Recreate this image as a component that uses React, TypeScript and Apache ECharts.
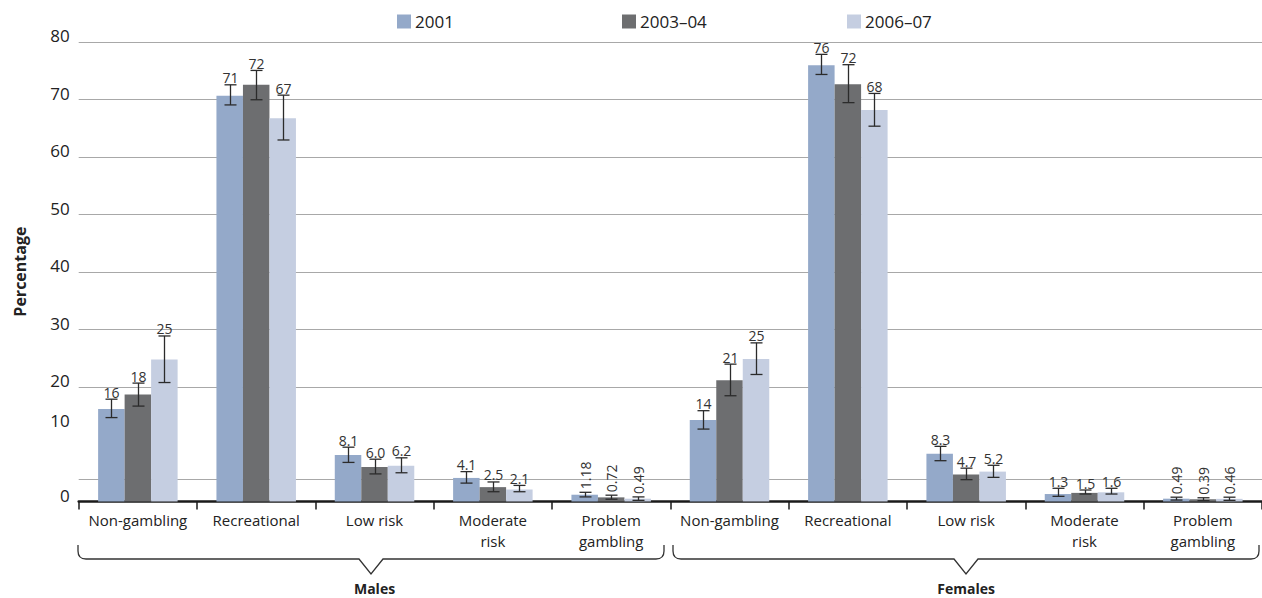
import React, { useEffect, useRef } from 'react';
import * as echarts from 'echarts';

const FONT = '"Open Sans", "Noto Sans", sans-serif';

const categories = [
  'Non-gambling', 'Recreational', 'Low risk', 'Moderate\nrisk', 'Problem\ngambling',
  'Non-gambling', 'Recreational', 'Low risk', 'Moderate\nrisk', 'Problem\ngambling',
];
const groups = ['Males', 'Females'];
const years = ['2001', '2003–04', '2006–07'];
const colors = ['#94a9c9', '#6d6e70', '#c5cee1'];

const values2001 = [16.1, 70.6, 8.1, 4.1, 1.18, 14.2, 75.9, 8.3, 1.3, 0.49];
const values2003 = [18.6, 72.5, 6.0, 2.5, 0.72, 21.1, 72.6, 4.7, 1.5, 0.39];
const values2006 = [24.7, 66.7, 6.2, 2.1, 0.49, 24.8, 68.1, 5.2, 1.6, 0.46];

const labels2001 = ['16', '71', '8.1', '4.1', '1.18', '14', '76', '8.3', '1.3', '0.49'];
const labels2003 = ['18', '72', '6.0', '2.5', '0.72', '21', '72', '4.7', '1.5', '0.39'];
const labels2006 = ['25', '67', '6.2', '2.1', '0.49', '25', '68', '5.2', '1.6', '0.46'];

const low2001 = [14.6, 69.0, 6.8, 3.2, 0.8, 12.6, 74.3, 7.1, 0.9, 0.25];
const high2001 = [17.8, 72.5, 9.45, 5.2, 1.6, 15.8, 77.8, 9.6, 2.3, 0.75];
const low2003 = [16.6, 69.9, 4.8, 1.7, 0.4, 18.4, 69.4, 3.8, 1.3, 0.15];
const high2003 = [20.6, 75.0, 7.36, 3.4, 1.1, 23.9, 76.0, 5.8, 2.0, 0.65];
const low2006 = [20.7, 62.9, 5.0, 1.7, 0.2, 22.1, 65.3, 4.2, 1.3, 0.2];
const high2006 = [28.8, 70.7, 7.6, 2.8, 0.8, 27.6, 71.0, 6.3, 2.3, 0.75];

const gridValues = [4, 20, 30, 40, 50, 60, 70, 80];

const BAR_W = 26.5;
const CAP = 12;

const GRID_LEFT = 78.7;
const GRID_TOP = 41.7;
const GRID_W = 1186;
const GRID_H = 459.8;

const LEGEND_LEFT = 392;
const LEGEND_STEP = 225;

const BRACE_W = 586;
const braceD = `M0,0 L0,6 Q0,14 8,14 L${BRACE_W / 2 - 12},14 L${BRACE_W / 2},29 L${BRACE_W / 2 + 12},14 L${BRACE_W - 8},14 Q${BRACE_W},14 ${BRACE_W},6 L${BRACE_W},0`;

let braceRegistered = false;
function registerBrace() {
  if (braceRegistered) return;
  echarts.graphic.registerShape('brace', echarts.graphic.extendPath(braceD, {}) as any);
  braceRegistered = true;
}

function makeErr(k: number, low: number[], high: number[], labels: string[]) {
  return {
    type: 'custom',
    name: 'err' + k,
    z: 5,
    silent: true,
    data: low.map((l, i) => [i, l, high[i]]),
    encode: { x: 0, y: [1, 2] },
    renderItem: (params: any, api: any) => {
      const i = api.value(0);
      const lo = api.coord([i, api.value(1)]);
      const hi = api.coord([i, api.value(2)]);
      const x = Math.round(lo[0] + (k - 1) * BAR_W) + 0.5;
      const half = CAP / 2;
      const rotated = i % 5 === 4;
      const ls = { stroke: '#2b2b2b', lineWidth: 1.3 };
      return {
        type: 'group',
        children: [
          { type: 'line', shape: { x1: x, y1: hi[1], x2: x, y2: lo[1] }, style: ls },
          { type: 'line', shape: { x1: x - half, y1: hi[1], x2: x + half, y2: hi[1] }, style: ls },
          { type: 'line', shape: { x1: x - half, y1: lo[1], x2: x + half, y2: lo[1] }, style: ls },
          {
            type: 'text',
            x: x,
            y: hi[1] - (rotated ? 3 : 0),
            rotation: rotated ? Math.PI / 2 : 0,
            style: {
              text: labels[i],
              align: rotated ? 'left' : 'center',
              verticalAlign: rotated ? 'middle' : 'bottom',
              fill: '#333',
              fontSize: 14,
              fontFamily: FONT,
            },
          },
        ],
      };
    },
  };
}

export default function App() {
  const ref = useRef<HTMLDivElement>(null);
  useEffect(() => {
    if (!ref.current) return;
    registerBrace();
    const chart = echarts.init(ref.current, undefined, { renderer: 'svg' });
    const option: any = {
      animation: false,
      textStyle: { fontFamily: FONT },
      legend: years.map((y, i) => ({
        data: [y],
        left: LEGEND_LEFT + LEGEND_STEP * i,
        top: 8,
        itemWidth: 14,
        itemHeight: 14,
        itemGap: 4,
        icon: 'rect',
        selectedMode: false,
        textStyle: { fontSize: 17, color: '#222', fontFamily: FONT, padding: [0, 0, 0, -1] },
      })),
      grid: { left: GRID_LEFT, top: GRID_TOP, width: GRID_W, height: GRID_H, containLabel: false },
      xAxis: [
        {
          type: 'category',
          data: categories,
          axisLine: { lineStyle: { color: '#1a1a1a', width: 2.5 } },
          axisTick: { show: true, length: 8, interval: 0, lineStyle: { color: '#1a1a1a', width: 1.5 } },
          axisLabel: { interval: 0, margin: 8, fontSize: 15, lineHeight: 21, color: '#222', fontFamily: FONT },
          splitLine: { show: false },
        },
        {
          type: 'category',
          data: groups,
          position: 'bottom',
          offset: 73,
          axisLine: { show: false },
          axisTick: { show: false },
          axisLabel: { margin: 7, fontSize: 14, fontWeight: 'bold', color: '#222', fontFamily: FONT },
          splitLine: { show: false },
        },
      ],
      yAxis: {
        type: 'value',
        min: 0,
        max: 80,
        interval: 10,
        name: 'Percentage',
        nameLocation: 'middle',
        nameRotate: 90,
        nameGap: 51,
        nameTextStyle: { fontSize: 16, fontWeight: 'bold', color: '#222', fontFamily: FONT },
        splitLine: { show: false },
        axisLine: { show: false },
        axisTick: { show: false },
        axisLabel: {
          margin: 9,
          color: '#222',
          fontSize: 17,
          formatter: (v: number) => (v === 10 ? '{b|10}' : '{a|' + v + '}'),
          rich: {
            a: { fontSize: 17, color: '#222', fontFamily: FONT, padding: [0, 0, 12, 0] },
            b: { fontSize: 17, color: '#222', fontFamily: FONT, padding: [0, 0, 48, 0] },
          },
        },
      },
      series: [
        {
          type: 'custom',
          name: 'grid',
          z: 1,
          silent: true,
          data: gridValues.map((v) => [0, v]),
          encode: { x: 0, y: 1 },
          renderItem: (params: any, api: any) => {
            const cs = params.coordSys;
            const y = Math.round(api.coord([0, api.value(1)])[1]) + 0.5;
            return {
              type: 'line',
              shape: { x1: cs.x, y1: y, x2: cs.x + cs.width, y2: y },
              style: { stroke: '#a8a8a8', lineWidth: 1 },
            };
          },
        },
        { type: 'bar', name: years[0], data: values2001, barWidth: BAR_W, barGap: '0%', itemStyle: { color: colors[0] }, z: 2 },
        { type: 'bar', name: years[1], data: values2003, barWidth: BAR_W, barGap: '0%', itemStyle: { color: colors[1] }, z: 2 },
        { type: 'bar', name: years[2], data: values2006, barWidth: BAR_W, barGap: '0%', itemStyle: { color: colors[2] }, z: 2 },
        makeErr(0, low2001, high2001, labels2001),
        makeErr(1, low2003, high2003, labels2003),
        makeErr(2, low2006, high2006, labels2006),
      ],
      graphic: [
        { type: 'brace', x: 78, y: 545, silent: true, style: { fill: 'none', stroke: '#333', lineWidth: 1.3 } },
        { type: 'brace', x: 673, y: 545, silent: true, style: { fill: 'none', stroke: '#333', lineWidth: 1.3 } },
      ],
    };
    chart.setOption(option);
    return () => chart.dispose();
  }, []);
  return <div ref={ref} style={{ position: 'absolute', left: 0, top: 0, width: 1262, height: 598 }} />;
}
